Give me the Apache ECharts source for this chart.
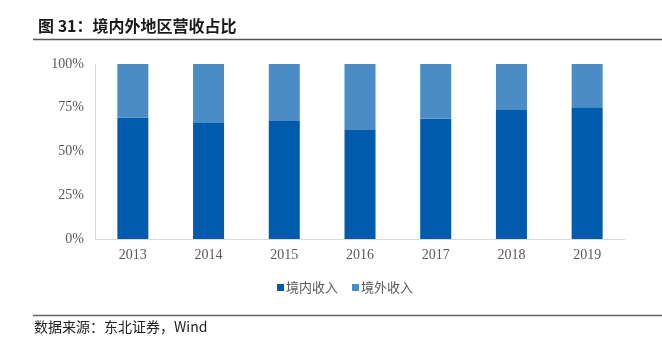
<!DOCTYPE html>
<html>
<head>
<meta charset="utf-8">
<script src="https://cdn.jsdelivr.net/npm/echarts@6/dist/echarts.min.js"></script>
<style>
html,body{margin:0;padding:0;background:#fff;}
#chart{width:662px;height:339px;}
</style>
</head>
<body>
<div id="chart"></div>
<script>
const categories = ['2013', '2014', '2015', '2016', '2017', '2018', '2019'];
const domestic = [69.3, 66.3, 67.5, 62.3, 68.7, 73.7, 75.3];
const overseas = [30.7, 33.7, 32.5, 37.7, 31.3, 26.3, 24.7];
const yTicks = [0, 25, 50, 75, 100];
const seriesNames = ['境内收入', '境外收入'];
const titleText = '图 31：境内外地区营收占比';
const sourceText = '数据来源：东北证券，Wind';

const chart = echarts.init(document.getElementById('chart'));
const labelFont = '"Liberation Serif", "Times New Roman", serif';
chart.setOption({
  animation: false,
  backgroundColor: '#fff',
  title: {
    text: titleText,
    left: 33,
    top: 13,
    textStyle: { fontSize: 16, fontWeight: 'bold', color: '#1a1a1a', fontFamily: '"Noto Sans CJK SC", sans-serif' }
  },
  graphic: [
    { type: 'line', shape: { x1: 33, y1: 39.5, x2: 662, y2: 39.5 }, style: { stroke: '#555', lineWidth: 1.5 } },
    { type: 'line', shape: { x1: 33, y1: 315.5, x2: 662, y2: 315.5 }, style: { stroke: '#666', lineWidth: 1.5 } },
    { type: 'text', left: 34, top: 320, style: { text: sourceText, fontSize: 14, fill: '#222', fontFamily: '"Noto Sans CJK SC", serif' } }
  ],
  legend: {
    data: seriesNames,
    top: 276,
    left: 272,
    itemWidth: 7,
    itemHeight: 7,
    itemGap: 14,
    icon: 'rect',
    textStyle: { fontSize: 13, color: '#595959', padding: [0, 0, 0, -3], fontFamily: '"Noto Sans CJK SC", sans-serif' }
  },
  grid: { left: 95, right: 37, top: 64, bottom: 100 },
  xAxis: {
    type: 'category',
    data: categories,
    axisLine: { lineStyle: { color: '#d9d9d9', width: 1 } },
    axisTick: { show: false },
    axisLabel: { color: '#595959', fontSize: 14, fontFamily: labelFont, margin: 9 }
  },
  yAxis: {
    type: 'value',
    min: yTicks[0],
    max: yTicks[yTicks.length - 1],
    interval: 25,
    axisLine: { show: true, lineStyle: { color: '#d9d9d9', width: 1 } },
    axisTick: { show: false },
    splitLine: { show: false },
    axisLabel: { color: '#595959', fontSize: 14, fontFamily: labelFont, formatter: '{value}%', margin: 11 }
  },
  series: [
    { name: seriesNames[0], type: 'bar', stack: 'total', data: domestic, barWidth: 31, itemStyle: { color: '#005BAC' } },
    { name: seriesNames[1], type: 'bar', stack: 'total', data: overseas, barWidth: 31, itemStyle: { color: '#4A8DC6' } }
  ]
});
</script>
</body>
</html>
